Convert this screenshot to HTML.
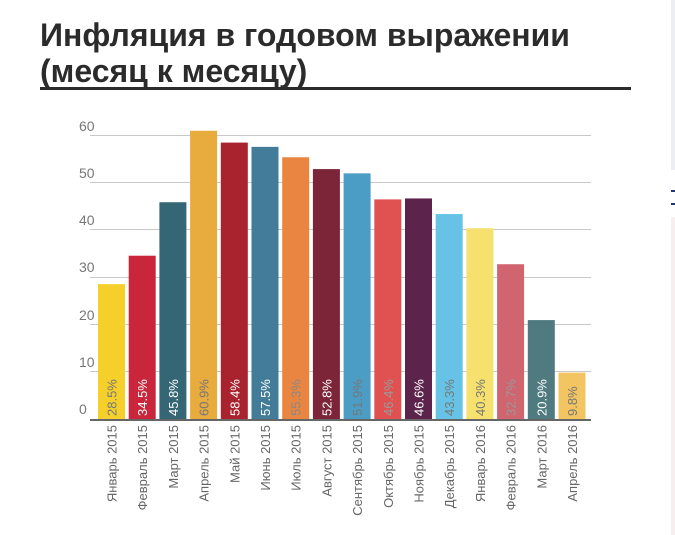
<!DOCTYPE html>
<html><head><meta charset="utf-8"><style>
body{margin:0;background:#fff;width:675px;height:535px;overflow:hidden;position:relative;font-family:"Liberation Sans",sans-serif}
h1{position:absolute;left:40px;top:17px;margin:0;font-size:32px;line-height:36px;font-weight:bold;color:#2b2b2b;letter-spacing:0}
.rule{position:absolute;left:40px;top:87px;width:591px;height:3px;background:#2b2b2b}
.side1{position:absolute;left:671px;top:0;width:4px;height:170px;background:#eceef3}
.side2{position:absolute;left:671px;top:217px;width:4px;height:318px;background:#f7eef0}
.lk{position:absolute;left:671px;width:4px;height:2px;background:#23356e}
</style></head><body>
<h1>Инфляция в годовом выражении<br>(месяц к месяцу)</h1>
<div class="rule"></div>
<div class="side1"></div><div class="side2"></div>
<div class="lk" style="top:190px"></div><div class="lk" style="top:203px"></div>
<svg width="675" height="535" style="position:absolute;left:0;top:0" font-family="Liberation Sans, sans-serif">
<g stroke="#c8c8c8" stroke-width="1">
<line x1="90" x2="591" y1="135.5" y2="135.5"/><line x1="90" x2="591" y1="182.5" y2="182.5"/>
<line x1="90" x2="591" y1="229.5" y2="229.5"/><line x1="90" x2="591" y1="277.5" y2="277.5"/>
<line x1="90" x2="591" y1="324.5" y2="324.5"/><line x1="90" x2="591" y1="371.5" y2="371.5"/>
</g>
<g font-size="14" fill="#777">
<text x="79" y="131">60</text><text x="79" y="178">50</text><text x="79" y="225">40</text>
<text x="79" y="272">30</text><text x="79" y="320">20</text><text x="79" y="367">10</text><text x="79" y="414">0</text>
</g>
<g id="bars"></g>
<line x1="90" x2="591" y1="420" y2="420" stroke="#666" stroke-width="2"/>
</svg>
<script>
var d=[["Январь 2015",28.5,"#f5d02b","#777"],["Февраль 2015",34.5,"#c9263c","#fff"],["Март 2015",45.8,"#356675","#fff"],["Апрель 2015",60.9,"#e8ab3d","#777"],["Май 2015",58.4,"#a8232e","#fff"],["Июнь 2015",57.5,"#427c98","#fff"],["Июль 2015",55.3,"#e98540","#888"],["Август 2015",52.8,"#7c2538","#fff"],["Сентябрь 2015",51.9,"#4c9dc6","#777"],["Октябрь 2015",46.4,"#e05252","#999"],["Ноябрь 2015",46.6,"#5c244c","#fff"],["Декабрь 2015",43.3,"#66c3e6","#777"],["Январь 2016",40.3,"#f6e06e","#777"],["Февраль 2016",32.7,"#d0646f","#999"],["Март 2016",20.9,"#4f7a80","#fff"],["Апрель 2016",9.8,"#f2c462","#777"]];
var s="";d.forEach(function(r,i){var x=98+i*30.7,h=r[1]*4.733,y=419-h,cx=x+13.5;
s+='<rect x="'+x+'" y="'+y+'" width="27" height="'+h+'" fill="'+r[2]+'"/>';
s+='<text transform="translate('+(cx+5)+',416) rotate(-90)" font-size="13" fill="'+r[3]+'">'+r[1]+'%</text>';
s+='<text transform="translate('+(cx+5)+',425) rotate(-90)" font-size="13" fill="#666" text-anchor="end">'+r[0]+'</text>';});
document.getElementById("bars").innerHTML=s;
</script>
</body></html>
